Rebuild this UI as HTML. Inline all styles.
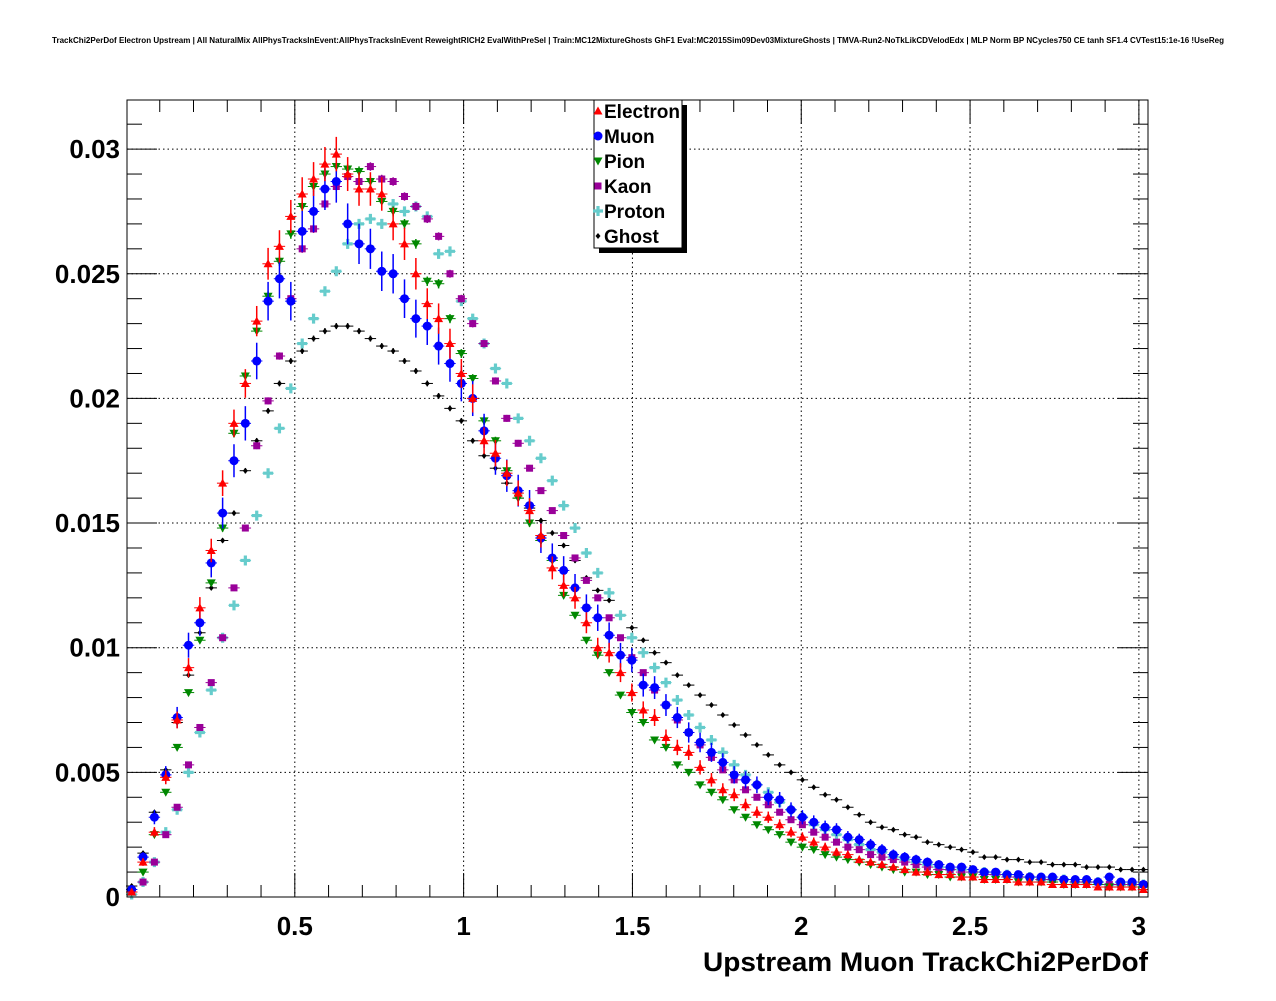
<!DOCTYPE html>
<html><head><meta charset="utf-8"><style>
body{margin:0;background:#fff;}
svg text{font-family:"Liberation Sans",Arial,sans-serif;font-weight:bold;}
</style></head><body>
<svg id="chart" width="1276" height="996" xmlns="http://www.w3.org/2000/svg">
<rect x="0" y="0" width="1276" height="996" fill="#fff"/>
<text x="52" y="43" font-size="8" textLength="1172" lengthAdjust="spacingAndGlyphs">TrackChi2PerDof Electron Upstream | All NaturalMix AllPhysTracksInEvent:AllPhysTracksInEvent ReweightRICH2 EvalWithPreSel | Train:MC12MixtureGhosts GhF1 Eval:MC2015Sim09Dev03MixtureGhosts | TMVA-Run2-NoTkLikCDVelodEdx | MLP Norm BP NCycles750 CE tanh SF1.4 CVTest15:1e-16 !UseReg</text>
<g id="grid"></g>
<g id="axes"></g>
<g id="series"></g>
<rect x="127" y="100" width="1021" height="797" fill="none" stroke="#000" stroke-width="1"/>
<text x="703" y="971" font-size="27" textLength="445" lengthAdjust="spacingAndGlyphs">Upstream Muon TrackChi2PerDof</text>
<g id="legend">
<rect x="599" y="105" width="88" height="148" fill="#000"/>
<rect x="594" y="100" width="88" height="148" fill="#fff" stroke="#000"/>
</g>
</svg>
<script>
const binWidth = 0.03367;
const yTicks = [0, 0.005, 0.01, 0.015, 0.02, 0.025, 0.03];
const yTickLabels = ["0", "0.005", "0.01", "0.015", "0.02", "0.025", "0.03"];
const xTicks = [0.5, 1, 1.5, 2, 2.5, 3];
const xTickLabels = ["0.5", "1", "1.5", "2", "2.5", "3"];
const seriesNames = ["Electron", "Muon", "Pion", "Kaon", "Proton", "Ghost"];
const electron = [0.0002,0.0014,0.0026,0.0048,0.0071,0.0092,0.0116,0.0139,0.0166,0.0190,0.0206,0.0231,0.0254,0.0261,0.0273,0.0282,0.0288,0.0294,0.0298,0.0290,0.0284,0.0284,0.0282,0.0270,0.0262,0.0250,0.0238,0.0232,0.0222,0.0210,0.0200,0.0183,0.0178,0.0170,0.0162,0.0155,0.0145,0.0132,0.0125,0.0120,0.0110,0.0100,0.0098,0.0090,0.0082,0.0075,0.0072,0.0064,0.0060,0.0058,0.0052,0.0047,0.0043,0.0041,0.0037,0.0034,0.0032,0.0029,0.0026,0.0024,0.0022,0.0020,0.0018,0.0017,0.0015,0.0014,0.0013,0.0012,0.0011,0.0010,0.0010,0.0009,0.0009,0.0008,0.0008,0.0007,0.0007,0.0007,0.0006,0.0006,0.0006,0.0005,0.0005,0.0005,0.0005,0.0004,0.0004,0.0004,0.0004,0.0003];
const muon = [0.0003,0.0016,0.0032,0.0049,0.0072,0.0101,0.0110,0.0134,0.0154,0.0175,0.0190,0.0215,0.0239,0.0248,0.0239,0.0267,0.0275,0.0284,0.0287,0.0270,0.0262,0.0260,0.0251,0.0250,0.0240,0.0232,0.0229,0.0221,0.0214,0.0206,0.0200,0.0187,0.0176,0.0169,0.0163,0.0157,0.0144,0.0136,0.0131,0.0124,0.0116,0.0112,0.0105,0.0097,0.0095,0.0085,0.0084,0.0077,0.0072,0.0066,0.0062,0.0058,0.0054,0.0049,0.0047,0.0045,0.0040,0.0039,0.0035,0.0032,0.0030,0.0028,0.0027,0.0024,0.0023,0.0021,0.0019,0.0017,0.0016,0.0015,0.0014,0.0013,0.0012,0.0012,0.0011,0.0010,0.0010,0.0009,0.0009,0.0008,0.0008,0.0008,0.0007,0.0007,0.0007,0.0006,0.0008,0.0006,0.0006,0.0005];
const pion = [0.0002,0.0010,0.0025,0.0042,0.0060,0.0082,0.0103,0.0126,0.0148,0.0186,0.0209,0.0227,0.0241,0.0255,0.0266,0.0277,0.0285,0.0290,0.0293,0.0292,0.0291,0.0287,0.0279,0.0275,0.0270,0.0262,0.0247,0.0246,0.0232,0.0218,0.0208,0.0191,0.0183,0.0171,0.0160,0.0150,0.0143,0.0135,0.0121,0.0113,0.0103,0.0097,0.0090,0.0081,0.0074,0.0070,0.0063,0.0060,0.0053,0.0050,0.0045,0.0042,0.0039,0.0035,0.0032,0.0029,0.0027,0.0025,0.0022,0.0020,0.0019,0.0017,0.0016,0.0015,0.0014,0.0013,0.0012,0.0011,0.0010,0.0010,0.0009,0.0009,0.0008,0.0008,0.0008,0.0007,0.0007,0.0007,0.0006,0.0006,0.0006,0.0006,0.0005,0.0005,0.0005,0.0005,0.0004,0.0004,0.0004,0.0004];
const kaon = [0.0002,0.0006,0.0014,0.0025,0.0036,0.0053,0.0068,0.0086,0.0104,0.0124,0.0148,0.0181,0.0199,0.0217,0.0240,0.0260,0.0268,0.0278,0.0285,0.0289,0.0287,0.0293,0.0288,0.0287,0.0281,0.0277,0.0272,0.0265,0.0250,0.0240,0.0230,0.0222,0.0207,0.0192,0.0182,0.0172,0.0163,0.0155,0.0145,0.0136,0.0127,0.0120,0.0112,0.0104,0.0096,0.0090,0.0083,0.0077,0.0071,0.0066,0.0061,0.0056,0.0051,0.0047,0.0043,0.0040,0.0037,0.0034,0.0031,0.0029,0.0026,0.0024,0.0022,0.0020,0.0019,0.0017,0.0016,0.0015,0.0014,0.0013,0.0012,0.0011,0.0011,0.0010,0.0010,0.0009,0.0009,0.0008,0.0008,0.0008,0.0007,0.0007,0.0007,0.0006,0.0006,0.0006,0.0005,0.0005,0.0005,0.0005];
const proton = [0.0001,0.0006,0.0014,0.0026,0.0035,0.0050,0.0066,0.0083,0.0104,0.0117,0.0135,0.0153,0.0170,0.0188,0.0204,0.0222,0.0232,0.0243,0.0251,0.0262,0.0270,0.0272,0.0270,0.0278,0.0275,0.0277,0.0273,0.0258,0.0259,0.0239,0.0232,0.0222,0.0212,0.0206,0.0192,0.0183,0.0176,0.0167,0.0157,0.0148,0.0138,0.0130,0.0122,0.0113,0.0104,0.0098,0.0092,0.0086,0.0079,0.0073,0.0068,0.0063,0.0058,0.0053,0.0049,0.0045,0.0042,0.0038,0.0035,0.0032,0.0029,0.0027,0.0025,0.0023,0.0021,0.0019,0.0018,0.0016,0.0015,0.0014,0.0013,0.0012,0.0011,0.0011,0.0010,0.0010,0.0009,0.0009,0.0008,0.0008,0.0007,0.0007,0.0007,0.0006,0.0006,0.0006,0.0005,0.0005,0.0005,0.0005];
const ghost = [0.00044,0.00176,0.0034,0.0051,0.0070,0.0089,0.0106,0.0124,0.0143,0.0154,0.0171,0.0183,0.0195,0.0206,0.0215,0.0219,0.0224,0.0227,0.0229,0.0229,0.0227,0.0224,0.0221,0.0219,0.0215,0.0211,0.0206,0.0201,0.0196,0.0191,0.0183,0.0177,0.0172,0.0166,0.0160,0.0156,0.0151,0.0146,0.0141,0.0135,0.0128,0.0123,0.0119,0.0113,0.0108,0.0103,0.0098,0.0094,0.0089,0.0085,0.0081,0.0077,0.0073,0.0069,0.0065,0.0061,0.0057,0.0053,0.0050,0.0047,0.0044,0.0041,0.0039,0.0036,0.0033,0.0030,0.0028,0.0027,0.0025,0.0024,0.0022,0.0021,0.0020,0.0019,0.0018,0.0016,0.0016,0.0015,0.0015,0.0014,0.0014,0.0013,0.0013,0.0013,0.0012,0.0012,0.0012,0.0011,0.0011,0.0011];

const NS='http://www.w3.org/2000/svg';
const X0=127, X1=1148, Y0=897, Y1=100;
const xmin=0.003, xmax=3.027, ymin=0, ymax=0.03197;
function sx(v){return X0+(v-xmin)/(xmax-xmin)*(X1-X0);}
function sy(v){return Y0-(v-ymin)/(ymax-ymin)*(Y0-Y1);}
function mk(tag,attrs,parent){const e=document.createElementNS(NS,tag);for(const k in attrs)e.setAttribute(k,attrs[k]);parent.appendChild(e);return e;}
const grid=document.getElementById('grid'), axes=document.getElementById('axes'), ser=document.getElementById('series'), leg=document.getElementById('legend');

yTicks.forEach((t,i)=>{
  const y=sy(t);
  if(t>0){const g=mk('line',{x1:X0,x2:X1,y1:y,y2:y,stroke:'#000','stroke-dasharray':'1.5,3','stroke-width':1},grid);
  
  }
  const tl=mk('line',{x1:X0,x2:X0+30,y1:y,y2:y,stroke:'#000'},axes);
  
  
  const tr=mk('line',{x1:X1-30,x2:X1,y1:y,y2:y,stroke:'#000'},axes);
  
  
  const tx=mk('text',{x:120,y:y+9,'font-size':26,'text-anchor':'end'},axes);
  tx.textContent=yTickLabels[i];
  
  
});
for(let v=0.001;v<0.032;v+=0.001){
  if(Math.abs(v/0.005-Math.round(v/0.005))<1e-6) continue;
  const y=sy(v);
  const a=mk('line',{x1:X0,x2:X0+15,y1:y,y2:y,stroke:'#000'},axes);
  
  
  const b=mk('line',{x1:X1-15,x2:X1,y1:y,y2:y,stroke:'#000'},axes);
  
  
}
xTicks.forEach((t,i)=>{
  const x=sx(t);
  const g=mk('line',{x1:x,x2:x,y1:Y1,y2:Y0,stroke:'#000','stroke-dasharray':'1.5,3','stroke-width':1},grid);
  
  
  const tb=mk('line',{x1:x,x2:x,y1:Y0,y2:Y0-24,stroke:'#000'},axes);
  
  
  const tt=mk('line',{x1:x,x2:x,y1:Y1,y2:Y1+24,stroke:'#000'},axes);
  
  
  const tx=mk('text',{x:x,y:935,'font-size':26,'text-anchor':'middle'},axes);
  tx.textContent=xTickLabels[i];
  
  
});
for(let k=1;k<=30;k++){
  const v=k*0.1; if(k%5===0) continue;
  const x=sx(v); if(x>X1) continue;
  const a=mk('line',{x1:x,x2:x,y1:Y0,y2:Y0-12,stroke:'#000'},axes);
  
  
  const b=mk('line',{x1:x,x2:x,y1:Y1,y2:Y1+12,stroke:'#000'},axes);
  
  
}

const cols=['#ff0000','#0000ff','#008800','#990099','#66cccc','#000000'];
const shapes=['tri','circ','tridown','sq','cross','dia'];
const errK=[0.0040,0.0050,0.0012,0.0010,0.0012,0.0008];
function marker(g,shape,x,y,c){
  let e;
  if(shape==='tri') e=mk('polygon',{points:`${x},${y-4.5} ${x+4.5},${y+3.5} ${x-4.5},${y+3.5}`,fill:c},g);
  else if(shape==='tridown') e=mk('polygon',{points:`${x},${y+4.5} ${x+4.5},${y-3.5} ${x-4.5},${y-3.5}`,fill:c},g);
  else if(shape==='circ') e=mk('circle',{cx:x,cy:y,r:4.5,fill:c},g);
  else if(shape==='sq') e=mk('rect',{x:x-3.5,y:y-3.5,width:7,height:7,fill:c},g);
  else if(shape==='cross') e=mk('polygon',{points:`${x-1.6},${y-5} ${x+1.6},${y-5} ${x+1.6},${y-1.6} ${x+5},${y-1.6} ${x+5},${y+1.6} ${x+1.6},${y+1.6} ${x+1.6},${y+5} ${x-1.6},${y+5} ${x-1.6},${y+1.6} ${x-5},${y+1.6} ${x-5},${y-1.6} ${x-1.6},${y-1.6}`,fill:c},g);
  else e=mk('polygon',{points:`${x},${y-3} ${x+2.5},${y} ${x},${y+3} ${x-2.5},${y}`,fill:c},g);
  return e;
}
const allData=[electron,muon,pion,kaon,proton,ghost];
const drawOrder=[5,4,3,2,1,0];
drawOrder.forEach(si=>{
  const g=mk('g',{},ser);
  
  
  allData[si].forEach((v,i)=>{
    const xc=(i+0.5)*binWidth;
    const x=sx(xc), y=sy(v);
    if(x>X1) return;
    const err=errK[si]*Math.sqrt(v);
    const h=mk('line',{x1:sx(i*binWidth),x2:Math.min(X1,sx((i+1)*binWidth)),y1:y,y2:y,stroke:cols[si],'stroke-width':1},g);
    
    
    const vl=mk('line',{x1:x,x2:x,y1:Math.min(Y0,sy(v-err)),y2:sy(v+err),stroke:cols[si],'stroke-width':1.5},g);
    
    
    const m=marker(g,shapes[si],x,y,cols[si]);
    
    
  });
});
seriesNames.forEach((n,i)=>{
  const y=111+i*25;
  const m=marker(leg,shapes[i],598,y,cols[i]);
  
  
  const t=mk('text',{x:604,y:y+7,'font-size':19},leg);
  t.textContent=n;
  
  
});
</script>
</body></html>
